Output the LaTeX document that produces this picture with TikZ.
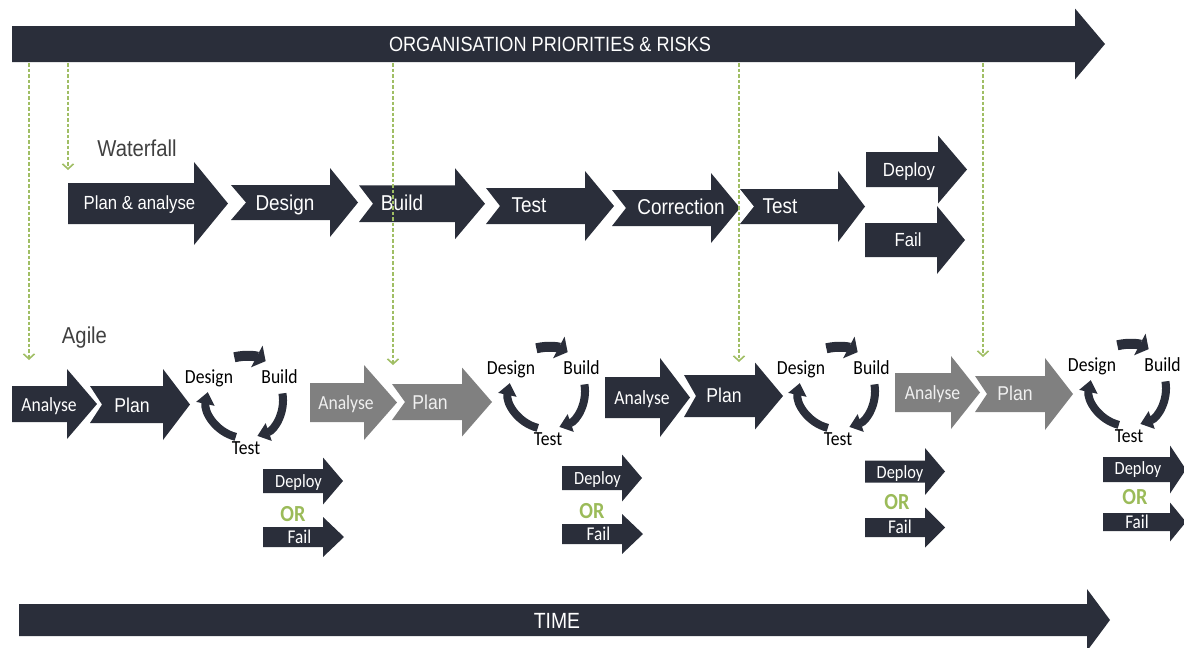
\documentclass[tikz,border=0pt]{standalone}
\usepackage{fontspec}
\setmainfont{Liberation Sans}[FakeStretch=0.88]
\newfontfamily\calfont{Carlito}[FakeStretch=0.88]
\usetikzlibrary{arrows.meta}

\definecolor{ink}{RGB}{42,46,58}
\definecolor{stone}{RGB}{128,128,128}
\definecolor{leaf}{RGB}{155,187,89}
\definecolor{dashleaf}{RGB}{160,190,100}
\definecolor{caption}{RGB}{64,64,64}

% block arrow: fill, left x, tail notch, mid y, half body height, head base x, half head height, tip x
\newcommand\blockarr[8]{%
  \fill[#1] (#2,#4-#5) -- (#6,#4-#5) -- (#6,#4-#7) -- (#8,#4) -- (#6,#4+#7)
    -- (#6,#4+#5) -- (#2,#4+#5) -- (#2+#3,#4) -- cycle;}

% Design -> Build -> Test loop around a centre (x, y), node suffix #3
\newcommand\agilecycle[3]{%
  \draw[loopbar, line width=10pt, -{Triangle[width=24pt,length=10pt]}]
    ([shift={(-104:44)}] #1,#2) arc[start angle=-104, end angle=-62, radius=44];
  \draw[loopbar, -{Triangle[width=18pt,length=12pt]}]
    ([shift={(-10:38)}] #1,#2) arc[start angle=-10, end angle=71, radius=38];
  \draw[loopbar, -{Triangle[width=18pt,length=12pt]}]
    ([shift={(104:38)}] #1,#2) arc[start angle=104, end angle=192, radius=38];
  \node[looptext] (design#3) at (#1-36,#2-23) {Design};
  \node[looptext] (build#3)  at (#1+34.5,#2-23) {Build};
  \node[looptext] (test#3)   at (#1+1,#2+48) {Test};
}

\tikzset{
  bandtext/.style={text=white, inner sep=0pt, text depth=0pt, text height=14.7pt,
    font=\fontsize{20.6}{24}\selectfont},
  timetext/.style={text=white, inner sep=0pt, text depth=0pt, text height=15.7pt,
    font=\fontsize{22}{26}\selectfont},
  rowtitle/.style={text=caption, inner sep=0pt, text depth=0pt, text height=16.5pt,
    font=\fontsize{23}{27}\selectfont},
  wftext/.style={text=white, inner sep=0pt, text depth=0pt, text height=15.4pt,
    font=\fontsize{21.5}{25}\selectfont},
  wfsmall/.style={text=white, inner sep=0pt, text depth=0pt, text height=13.6pt,
    font=\fontsize{19}{23}\selectfont},
  analysetext/.style={text=#1, inner sep=0pt, text depth=0pt, text height=12.9pt,
    font=\calfont\fontsize{20}{24}\selectfont},
  plantext/.style={text=#1, inner sep=0pt, text depth=0pt, text height=14.3pt,
    font=\fontsize{20}{24}\selectfont},
  looptext/.style={text=black, inner sep=0pt, text depth=0pt, text height=12.9pt,
    font=\calfont\fontsize{20}{24}\selectfont},
  deploytext/.style={text=white, inner sep=0pt, text depth=0pt, text height=12pt,
    font=\calfont\fontsize{18.6}{22}\selectfont},
  failtext/.style={text=white, inner sep=0pt, text depth=0pt, text height=12.5pt,
    font=\calfont\fontsize{19.5}{23}\selectfont},
  ortext/.style={text=leaf, inner sep=0pt, text depth=0pt, text height=14.8pt,
    font=\calfont\bfseries\fontsize{23}{27}\selectfont},
  loopbar/.style={draw=ink, line width=8pt},
  prompt/.style={draw=dashleaf, line width=2.2pt, dash pattern=on 3.5pt off 2pt,
    -{Straight Barb[length=5pt,width=11pt,line width=1.6pt]}},
}

\begin{document}
\begin{tikzpicture}[x=1pt, y=-1pt]
  \useasboundingbox (0,0) rectangle (1184,648);
  \clip (0,0) rectangle (1184,648);

  % organisation band and time band
  \blockarr{ink}{12}{0}{44}{18}{1075}{35.5}{1105}
  \node[bandtext] (org) at (550,44) {ORGANISATION PRIORITIES \& RISKS};
  \blockarr{ink}{19}{0}{620}{16}{1087}{31}{1110}
  \node[timetext] (time) at (557,621) {TIME};

  % row titles
  \node[rowtitle] (waterfall) at (137,148) {Waterfall};
  \node[rowtitle] (agile) at (84.5,335) {Agile};

  % waterfall sequence
  \blockarr{ink}{68}{0}{203.5}{20.5}{194}{41.5}{228}
  \blockarr{ink}{231}{15}{202.5}{17.5}{330}{34.5}{358}
  \blockarr{ink}{359}{14}{203.7}{18.3}{455}{35.5}{485}
  \blockarr{ink}{486}{14}{206}{18}{585}{35}{614}
  \blockarr{ink}{612}{14}{208}{18}{711}{35}{740}
  \blockarr{ink}{740}{14}{206.5}{17.5}{838}{35.5}{865}
  \blockarr{ink}{866}{0}{169.5}{17.5}{938}{34}{967}
  \blockarr{ink}{865}{0}{240}{17}{937}{34}{965}
  \node[wfsmall] (wplan) at (139.5,203) {Plan \& analyse};
  \node[wftext] (wdesign) at (285,203) {Design};
  \node[wftext] (wbuild) at (402,203) {Build};
  \node[wftext] (wtest) at (529,205) {Test};
  \node[wftext] (wcorr) at (681,207) {Correction};
  \node[wftext] (wretest) at (780,206) {Test};
  \node[wfsmall] (wdeploy) at (909,170) {Deploy};
  \node[wfsmall] (wfail) at (908,240) {Fail};

  % agile iterations: analyse and plan
  \blockarr{ink}{12}{0}{404}{18}{67}{35}{97}
  \blockarr{ink}{90}{12}{404.5}{18.5}{163}{35.5}{190}
  \blockarr{stone}{310}{0}{402.5}{19.5}{364}{37.5}{397}
  \blockarr{stone}{392}{13}{402}{18}{462}{34.5}{492}
  \blockarr{ink}{605}{0}{397.5}{20.5}{660}{39.5}{690}
  \blockarr{ink}{684}{12}{396}{21}{755}{33.5}{783}
  \blockarr{stone}{895}{0}{392.5}{19.5}{951}{36.5}{980}
  \blockarr{stone}{975}{12}{394}{18}{1045}{36}{1073}
  \node[analysetext=white] (analyse1) at (49,405) {Analyse};
  \node[plantext=white] (plan1) at (132,405) {Plan};
  \node[analysetext=white!94!black] (analyse2) at (346,403) {Analyse};
  \node[plantext=white!94!black] (plan2) at (430,402) {Plan};
  \node[analysetext=white] (analyse3) at (642,398) {Analyse};
  \node[plantext=white] (plan3) at (724,395) {Plan};
  \node[analysetext=white!94!black] (analyse4) at (932.5,393) {Analyse};
  \node[plantext=white!94!black] (plan4) at (1015,393) {Plan};

  % agile iterations: design / build / test loops
  \agilecycle{245}{400}{1}
  \agilecycle{547}{391}{2}
  \agilecycle{837}{391}{3}
  \agilecycle{1128}{388}{4}

  % agile iterations: deploy or fail
  \blockarr{ink}{263}{0}{481}{12}{323}{23.5}{343}
  \blockarr{ink}{263}{0}{537}{10}{323}{20}{344}
  \blockarr{ink}{562}{0}{478}{12}{622}{23.5}{642}
  \blockarr{ink}{562}{0}{534}{10}{622}{20}{643}
  \blockarr{ink}{865}{0}{471.5}{11}{925}{23.5}{945}
  \blockarr{ink}{865}{0}{527.5}{9.5}{925}{20}{945}
  \blockarr{ink}{1103}{0}{469.5}{12.5}{1170}{24}{1186}
  \blockarr{ink}{1103}{0}{522}{9}{1170}{19.5}{1186}
  \node[deploytext] (deploy1) at (298.5,481) {Deploy};
  \node[ortext] (or1) at (293,514) {OR};
  \node[failtext] (fail1) at (299.5,537) {Fail};
  \node[deploytext] (deploy2) at (597.5,478) {Deploy};
  \node[ortext] (or2) at (592,511) {OR};
  \node[failtext] (fail2) at (598.5,534) {Fail};
  \node[deploytext] (deploy3) at (900,472) {Deploy};
  \node[ortext] (or3) at (897,502) {OR};
  \node[failtext] (fail3) at (900,527) {Fail};
  \node[deploytext] (deploy4) at (1138,468) {Deploy};
  \node[ortext] (or4) at (1135,497) {OR};
  \node[failtext] (fail4) at (1137,522) {Fail};

  % priorities feeding into each start
  \coordinate (src1) at (29,63);   \coordinate (dst1) at (29,360);
  \coordinate (src2) at (68,63);   \coordinate (dst2) at (68,170);
  \coordinate (src3) at (393,63);  \coordinate (dst3) at (393,365);
  \coordinate (src4) at (739,63);  \coordinate (dst4) at (739,362);
  \coordinate (src5) at (983,63);  \coordinate (dst5) at (983,357);
  \foreach \i in {1,...,5} { \draw[prompt] (src\i) -- (dst\i); }
\end{tikzpicture}
\end{document}
